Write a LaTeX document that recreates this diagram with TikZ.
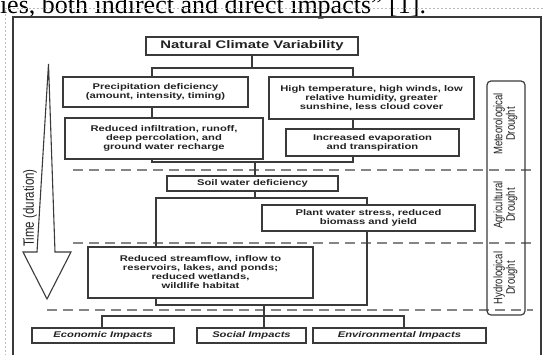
\documentclass[tikz,border=0pt]{standalone}
\usepackage{fontspec}
\newfontfamily\boxfont[FakeStretch=1.35]{Liberation Sans}
\newfontfamily\labelfont{Liberation Sans}
\newfontfamily\pagefont{Liberation Serif}
\definecolor{linec}{HTML}{3A3A3A}
\definecolor{textc}{HTML}{222222}
\definecolor{dashc}{HTML}{858585}
\definecolor{selc}{HTML}{BDBDBD}
\begin{document}
\begin{tikzpicture}[x=1pt,y=-1pt,
  every node/.style={inner sep=0pt, outer sep=0pt},
  stage/.style 2 args={draw=linec, line width=1.2pt, fill=white, text=textc,
    align=center, minimum width=#1pt, minimum height=#2pt,
    font=\boxfont\bfseries\fontsize{8.3}{9}\selectfont},
  impact/.style={stage={#1}{15}, font=\boxfont\bfseries\itshape\fontsize{8.3}{9}\selectfont},
  link/.style={draw=linec, line width=1.2pt},
  zone/.style={draw=dashc, line width=1.2pt, dash pattern=on 10pt off 6pt},
  vlabel/.style={text=textc, font=\labelfont\fontsize{9.5}{9.6}\selectfont}]

\useasboundingbox (0,0) rectangle (543,354);
\clip (0,0) rectangle (543,354);

% page text above the figure and the frames around it
\node[anchor=base west, font=\pagefont\fontsize{26}{26}\selectfont, text=black]
  (pagetext) at (0,13) {ies, both indirect and direct impacts” [1].};
\draw[selc, line width=0.6pt, dash pattern=on 2pt off 2pt] (5,360) -- (5,8) -- (548,8);
\draw[linec, line width=1.3pt] (13,360) -- (13,17) -- (541,17) -- (541,360);

% drought-type bands
\draw[zone] (73,170) -- (533,170);
\draw[zone] (73,243) -- (533,243);
\draw[zone] (47,310) -- (533,310);

% time arrow
\draw[linec, line width=1.1pt, line join=miter]
  (48.5,64) -- (55,252) -- (71,252) -- (47,299) -- (23,252) -- (37,252) -- cycle;
\node[vlabel, font=\labelfont\fontsize{11.5}{12}\selectfont, rotate=90] (time) at (30,208)
  {\scalebox{1}[1.3]{Time (duration)}};

% side panel with the three drought types
\node[draw=linec, line width=1.2pt, rounded corners=4pt, minimum width=38pt,
  minimum height=234pt] (panel) at (506,198) {};
\node[vlabel, rotate=90] (met) at (506,124)
  {\scalebox{1}[1.3]{\begin{tabular}{@{}c@{}}Meteorological\\Drought\end{tabular}}};
\node[vlabel, rotate=90] (agr) at (506,205)
  {\scalebox{1}[1.3]{\begin{tabular}{@{}c@{}}Agricultural\\Drought\end{tabular}}};
\node[vlabel, rotate=90] (hyd) at (506,278)
  {\scalebox{1}[1.3]{\begin{tabular}{@{}c@{}}Hydrological\\Drought\end{tabular}}};

% boxes
\node[stage={212}{18}, font=\boxfont\bfseries\fontsize{11}{12}\selectfont] (ncv) at (252,46)
  {Natural Climate Variability};
\node[stage={185}{30}] (prec) at (155.5,92)
  {Precipitation deficiency\\(amount, intensity, timing)};
\node[stage={205}{42}] (high) at (371.5,98)
  {High temperature, high winds, low\\relative humidity, greater\\sunshine, less cloud cover};
\node[stage={198}{41}] (infil) at (164,138.5)
  {Reduced infiltration, runoff,\\deep percolation, and\\ground water recharge};
\node[stage={173}{27}] (evap) at (372.5,142.5)
  {Increased evaporation\\and transpiration};
\node[stage={171}{15}] (soil) at (252.5,183.5) {Soil water deficiency};
\node[stage={213}{26}] (plant) at (368.5,218)
  {Plant water stress, reduced\\biomass and yield};
\node[stage={225}{51}] (stream) at (200.5,272.5)
  {Reduced streamflow, inflow to\\reservoirs, lakes, and ponds;\\reduced wetlands,\\wildlife habitat};
\node[impact=142] (econ) at (103,335.5) {Economic Impacts};
\node[impact=109] (social) at (251.5,335.5) {Social Impacts};
\node[impact=173] (env) at (399.5,335.5) {Environmental Impacts};

% stem positions and junctions
\coordinate (sP) at (152,0);
\coordinate (sH) at (353,0);
\coordinate (sL) at (156,0);
\coordinate (sR) at (367,0);
\coordinate (sE) at (102,0);
\coordinate (sV) at (404,0);
\coordinate (jA) at (252,68);
\coordinate (jB) at (255,162);
\coordinate (jC) at (255,198);
\coordinate (jD) at (264,305);
\coordinate (jE) at (264,316);

% connectors
\draw[link] (ncv.south) -- (jA);
\draw[link] (prec.north -| sP) |- (jA) -| (high.north -| sH);
\draw[link] (prec.south -| sP) -- (infil.north -| sP);
\draw[link] (high.south -| sH) -- (evap.north -| sH);
\draw[link] (infil.south -| sP) |- (jB) -| (evap.south -| sH);
\draw[link] (jB) -- (soil.north -| jB);
\draw[link] (soil.south -| jC) -- (jC);
\draw[link] (stream.north -| sL) |- (jC) -| (plant.north -| sR);
\draw[link] (stream.south -| sL) |- (jD) -| (plant.south -| sR);
\draw[link] (jD) -- (social.north -| jD);
\draw[link] (econ.north -| sE) |- (jE) -| (env.north -| sV);
\end{tikzpicture}
\end{document}
